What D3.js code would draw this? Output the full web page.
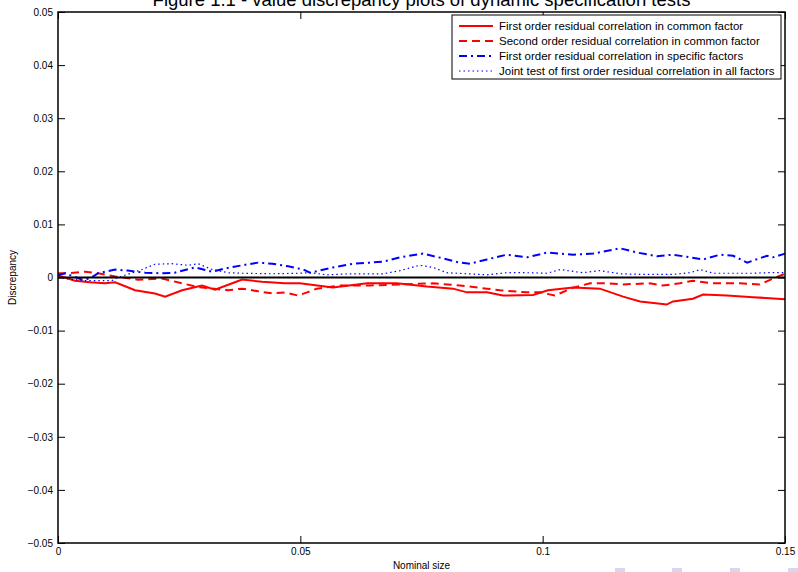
<!DOCTYPE html>
<html>
<head>
<meta charset="utf-8">
<script src="https://cdn.jsdelivr.net/npm/d3@7"></script>
<style>
  body { margin: 0; background: #fff; }
  text { font-family: "Liberation Sans", Arial, sans-serif; fill: #000; }
</style>
</head>
<body>
<div id="chart"></div>
<script>
// series: [nominal size, discrepancy]
const firstCommon = [
  [0, 0.0004], [0.0035, -0.0006], [0.0066, -0.0009], [0.0097, -0.0011], [0.0118, -0.0009],
  [0.0159, -0.0024], [0.0200, -0.0030], [0.0221, -0.0036], [0.0256, -0.0024], [0.0297, -0.0015],
  [0.0324, -0.0023], [0.0365, -0.0009], [0.0380, -0.0004], [0.0421, -0.0008], [0.0468, -0.0011],
  [0.0499, -0.0011], [0.0567, -0.0019], [0.0638, -0.0011], [0.0699, -0.0011], [0.0761, -0.0017],
  [0.0815, -0.0021], [0.0844, -0.0028], [0.0885, -0.0028], [0.0918, -0.0034], [0.0980, -0.0033],
  [0.1011, -0.0024], [0.1063, -0.0019], [0.1118, -0.0021], [0.1166, -0.0036], [0.1201, -0.0045],
  [0.1256, -0.0051], [0.1269, -0.0045], [0.1310, -0.0040], [0.1331, -0.0032], [0.1380, -0.0034],
  [0.1434, -0.0037], [0.1500, -0.0041]
];
const secondCommon = [
  [0, 0.0008], [0.0021, 0.0008], [0.0056, 0.0011], [0.0083, 0.0008], [0.0118, 0.0002],
  [0.0165, -0.0004], [0.0215, -0.0002], [0.0256, -0.0011], [0.0289, -0.0018], [0.0351, -0.0024],
  [0.0380, -0.0021], [0.0413, -0.0026], [0.0442, -0.0030], [0.0468, -0.0028], [0.0495, -0.0034],
  [0.0514, -0.0028], [0.0534, -0.0021], [0.0582, -0.0015], [0.0644, -0.0015], [0.0706, -0.0013],
  [0.0774, -0.0011], [0.0829, -0.0015], [0.0885, -0.0021], [0.0912, -0.0024], [0.0968, -0.0028],
  [0.0995, -0.0028], [0.1025, -0.0034], [0.1063, -0.0019], [0.1098, -0.0011], [0.1133, -0.0011],
  [0.1166, -0.0013], [0.1221, -0.0011], [0.1248, -0.0015], [0.1283, -0.0011], [0.1310, -0.0006],
  [0.1351, -0.0011], [0.1407, -0.0011], [0.1448, -0.0013], [0.1475, -0.0002], [0.1500, 0.0007]
];
const firstSpecific = [
  [0, 0.0004], [0.0014, 0.0008], [0.0050, -0.0004], [0.0066, -0.0002], [0.0083, 0.0008],
  [0.0118, 0.0015], [0.0144, 0.0013], [0.0180, 0.0009], [0.0215, 0.0008], [0.0241, 0.0009],
  [0.0283, 0.0019], [0.0318, 0.0011], [0.0345, 0.0017], [0.0380, 0.0023], [0.0413, 0.0028],
  [0.0442, 0.0026], [0.0475, 0.0021], [0.0506, 0.0015], [0.0520, 0.0009], [0.0567, 0.0019],
  [0.0609, 0.0026], [0.0644, 0.0028], [0.0671, 0.0030], [0.0706, 0.0038], [0.0753, 0.0045],
  [0.0794, 0.0036], [0.0829, 0.0028], [0.0850, 0.0026], [0.0885, 0.0034], [0.0926, 0.0043],
  [0.0968, 0.0038], [0.1009, 0.0047], [0.1063, 0.0043], [0.1104, 0.0045], [0.1160, 0.0055],
  [0.1195, 0.0047], [0.1236, 0.0040], [0.1269, 0.0043], [0.1304, 0.0038], [0.1331, 0.0034],
  [0.1366, 0.0043], [0.1393, 0.0041], [0.1422, 0.0028], [0.1463, 0.0041], [0.1475, 0.0038],
  [0.1500, 0.0045]
];
const jointAll = [
  [0, 0], [0.0014, -0.0002], [0.0056, -0.0006], [0.0111, -0.0006], [0.0118, -0.0002],
  [0.0173, 0.0015], [0.0200, 0.0025], [0.0235, 0.0026], [0.0268, 0.0023], [0.0289, 0.0026],
  [0.0318, 0.0015], [0.0351, 0.0009], [0.0380, 0.0008], [0.0442, 0.0007], [0.0495, 0.0008],
  [0.0520, 0.0009], [0.0555, 0.0005], [0.0602, 0.0007], [0.0671, 0.0007], [0.0706, 0.0013],
  [0.0746, 0.0023], [0.0774, 0.0019], [0.0802, 0.0009], [0.0844, 0.0007], [0.0885, 0.0005],
  [0.0926, 0.0009], [0.0968, 0.0009], [0.1009, 0.0008], [0.1036, 0.0015], [0.1083, 0.0009],
  [0.1118, 0.0013], [0.1160, 0.0007], [0.1201, 0.0006], [0.1269, 0.0006], [0.1304, 0.0009],
  [0.1325, 0.0015], [0.1352, 0.0008], [0.1434, 0.0008], [0.1463, 0.0009], [0.1500, 0.0009]
];

const xTicks = [0, 0.05, 0.1, 0.15];
const yTicks = [-0.05, -0.04, -0.03, -0.02, -0.01, 0, 0.01, 0.02, 0.03, 0.04, 0.05];
const seriesNames = [
  "First order residual correlation in common factor",
  "Second order residual correlation in common factor",
  "First order residual correlation in specific factors",
  "Joint test of first order residual correlation in all factors"
];
const titleText = "Figure 1.1 - value discrepancy plots of dynamic specification tests";

const width = 798, height = 572;
const margin = { top: 12, right: 13, bottom: 29, left: 58 };
const w = width - margin.left - margin.right;
const h = height - margin.top - margin.bottom;

const svg = d3.select("#chart").append("svg")
  .attr("width", width).attr("height", height);

const g = svg.append("g").attr("transform", `translate(${margin.left},${margin.top})`);

const x = d3.scaleLinear().domain([0, 0.15]).range([0, w]);
const y = d3.scaleLinear().domain([-0.05, 0.05]).range([h, 0]);

const fmt = d => d === 0 ? "0" : d3.format("")(+d.toFixed(2)).replace("-", "\u2212");

// axes: MATLAB style, ticks pointing inward on all four sides
const axStyle = sel => {
  sel.select(".domain").remove();
  sel.selectAll("line").attr("stroke", "#000");
  sel.selectAll("text").style("font-size", "10px");
};
g.append("g").attr("transform", `translate(0,${h})`)
  .call(d3.axisBottom(x).tickValues(xTicks).tickSize(-7).tickPadding(5).tickFormat(fmt))
  .call(axStyle);
g.append("g")
  .call(d3.axisTop(x).tickValues(xTicks).tickSize(-7).tickFormat(""))
  .call(axStyle);
g.append("g")
  .call(d3.axisLeft(y).tickValues(yTicks).tickSize(-7).tickPadding(5).tickFormat(fmt))
  .call(axStyle);
g.append("g").attr("transform", `translate(${w},0)`)
  .call(d3.axisRight(y).tickValues(yTicks).tickSize(-7).tickFormat(""))
  .call(axStyle);

const line = d3.line().x(d => x(d[0])).y(d => y(d[1]));

const styles = [
  { color: "#ff0000", width: 2, dash: null },
  { color: "#ff0000", width: 2, dash: "8,5" },
  { color: "#0000ff", width: 2, dash: "8,4,2,4" },
  { color: "#0000ff", width: 1.2, dash: "1.5,3" }
];
const series = [firstCommon, secondCommon, firstSpecific, jointAll];

series.forEach((s, i) => {
  g.append("path").datum(s)
    .attr("d", line)
    .attr("fill", "none")
    .attr("stroke", styles[i].color)
    .attr("stroke-width", styles[i].width)
    .attr("stroke-dasharray", styles[i].dash);
});

// zero reference line
g.append("line")
  .attr("x1", 0).attr("x2", w)
  .attr("y1", y(0)).attr("y2", y(0))
  .attr("stroke", "#000").attr("stroke-width", 2);

// plot box
g.append("rect").attr("width", w).attr("height", h)
  .attr("fill", "none").attr("stroke", "#000").attr("stroke-width", 1.5);

// legend
const lg = svg.append("g").attr("transform", "translate(452,15)");
lg.append("rect").attr("width", 329).attr("height", 64)
  .attr("fill", "#fff").attr("stroke", "#000").attr("stroke-width", 1);
seriesNames.forEach((name, i) => {
  const yy = 11 + i * 15;
  lg.append("line")
    .attr("x1", 7).attr("x2", 41).attr("y1", yy).attr("y2", yy)
    .attr("stroke", styles[i].color)
    .attr("stroke-width", styles[i].width)
    .attr("stroke-dasharray", styles[i].dash);
  lg.append("text").attr("x", 47).attr("y", yy + 4)
    .style("font-size", "11.5px").text(name);
});

// title (cut at the top edge, as in the source) and axis labels
svg.append("text").attr("x", margin.left + w / 2).attr("y", 6)
  .attr("text-anchor", "middle").style("font-size", "18.5px").text(titleText);
svg.append("text").attr("x", margin.left + w / 2).attr("y", 569)
  .attr("text-anchor", "middle").style("font-size", "10px").text("Nominal size");
svg.append("text")
  .attr("transform", `translate(16,${margin.top + y(0)}) rotate(-90)`)
  .attr("text-anchor", "middle").style("font-size", "10px").text("Discrepancy");

// faint navigation marks at the bottom edge
[615, 672, 730, 788].forEach(px => {
  svg.append("rect").attr("x", px).attr("y", 568).attr("width", 10).attr("height", 4)
    .attr("fill", "#d6d6ee");
});
</script>
</body>
</html>
